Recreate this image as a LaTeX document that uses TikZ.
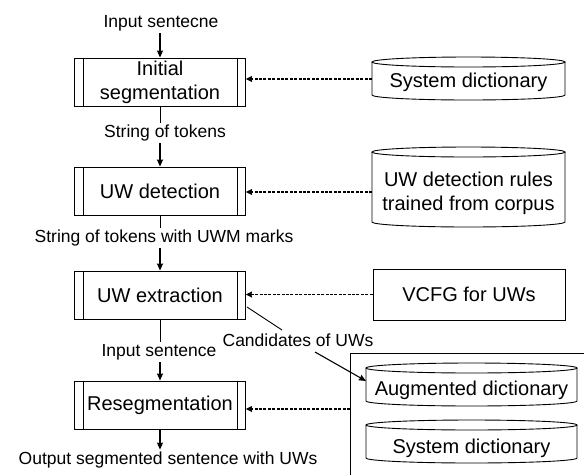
\documentclass[tikz,border=0pt]{standalone}
\usepackage{fontspec}
\setmainfont{Liberation Sans}
\usetikzlibrary{arrows.meta,calc}
\newcommand\cylshape[4]{%
 \pgfmathsetmacro\cylrx{(#2-#1)/2}%
 \pgfmathsetmacro\cylcx{(#1+#2)/2}%
 \draw[cylline] (#1,#3+5) -- (#1,#4-5) arc[start angle=180,end angle=360,x radius=\cylrx pt,y radius=5pt] -- (#2,#3+5);
 \draw[cylline] (\cylcx,#3+5) ellipse[x radius=\cylrx pt,y radius=5pt];}
\begin{document}
\begin{tikzpicture}[x=1pt,y=-1pt,
 proc/.style={draw, line width=0.9pt, minimum width=171pt, minimum height=48pt, align=center, inner sep=0pt, font=\fontsize{20}{24}\selectfont},
 lbl/.style={font=\fontsize{17.5}{21}\selectfont, inner sep=2pt},
 cyltext/.style={inner sep=0pt, outer sep=0pt, align=center, font=\fontsize{20}{24}\selectfont},
 cylline/.style={line width=0.9pt},
 arr/.style={line width=1.1pt, -{Stealth[length=7pt,width=6pt,inset=0.5pt]}},
 dasharr/.style={line width=1.3pt, dash pattern=on 3pt off 1.4pt, -{Stealth[length=6pt,width=6pt,inset=0.5pt]}},
 plain/.style={line width=0.9pt}]
\useasboundingbox (0,0) rectangle (584,475);
% process boxes
\node[proc] (b1) at (160,82) {Initial\\segmentation};
\node[proc] (b2) at (160,191) {UW detection};
\node[proc] (b3) at (160,295) {UW extraction};
\node[proc] (b4) at (160,405) {Resegmentation};
\foreach \n in {b1,b2,b3,b4}
 \draw[plain] ([xshift=9pt]\n.north west) -- ([xshift=9pt]\n.south west)
   ([xshift=-9pt]\n.north east) -- ([xshift=-9pt]\n.south east);
% labels
\node[lbl] (in) at (161,23) {Input sentecne};
\node[lbl] (l1) at (165,133) {String of tokens};
\node[lbl] (l2) at (164,238) {String of tokens with UWM marks};
\node[lbl] (l3) at (159,352) {Input sentence};
\node[lbl] (out) at (168,460) {Output segmented sentence with UWs};
\node[lbl] (cand) at (298,340) {Candidates of UWs};
% vertical flow
\draw[arr] (b1.north |- in.south) -- (b1.north);
\draw[plain] (b1.south) -- (b1.south |- l1.north);
\draw[arr] (b1.south |- l1.south) -- (b2.north);
\draw[plain] (b2.south) -- (b2.south |- l2.north);
\draw[arr] (b2.south |- l2.south) -- (b3.north);
\draw[plain] (b3.south) -- (b3.south |- l3.north);
\draw[arr] (b3.south |- l3.south) -- (b4.north);
\draw[arr] (b4.south) -- (b4.south |- out.north);
% right side resources
\cylshape{372}{565}{57}{100}
\node[cyltext, minimum width=193pt] (sd1) at (468.5,82) {System dictionary};
\cylshape{372}{565}{147}{227}
\node[cyltext, minimum width=193pt] (rules) at (468.5,193) {UW detection rules\\trained from corpus};
\node[proc, minimum width=192pt, minimum height=51pt] (vcfg) at (469,294.5) {VCFG for UWs};
\coordinate (ctl) at (350,353);
\coordinate (ctr) at (584,353);
\coordinate (cbl) at (350,475);
\draw[plain] (ctr) -- (ctl) -- (cbl);
\coordinate (cont) at (350,409);
\cylshape{366}{577}{363}{406}
\node[cyltext, minimum width=211pt] (aug) at (471.5,390) {Augmented dictionary};
\cylshape{366}{577}{420}{463}
\node[cyltext, minimum width=211pt] (sd2) at (471.5,448) {System dictionary};
% dashed connectors
\coordinate (d1) at (372,79);
\coordinate (d2) at (372,192);
\draw[dasharr] (sd1.west |- d1) -- (b1.east |- d1);
\draw[dasharr] (rules.west |- d2) -- (b2.east |- d2);
\draw[dasharr] (vcfg.west) -- (b3.east |- vcfg.west);
\draw[dasharr] (cont) -- (b4.east |- cont);
% candidates
\coordinate (c1) at (247,307);
\coordinate (c2) at (282,330);
\coordinate (c3) at (315,352);
\coordinate (c4) at (366,381);
\draw[plain] (c1) -- (c2);
\draw[arr] (c3) -- (c4);
\end{tikzpicture}
\end{document}
